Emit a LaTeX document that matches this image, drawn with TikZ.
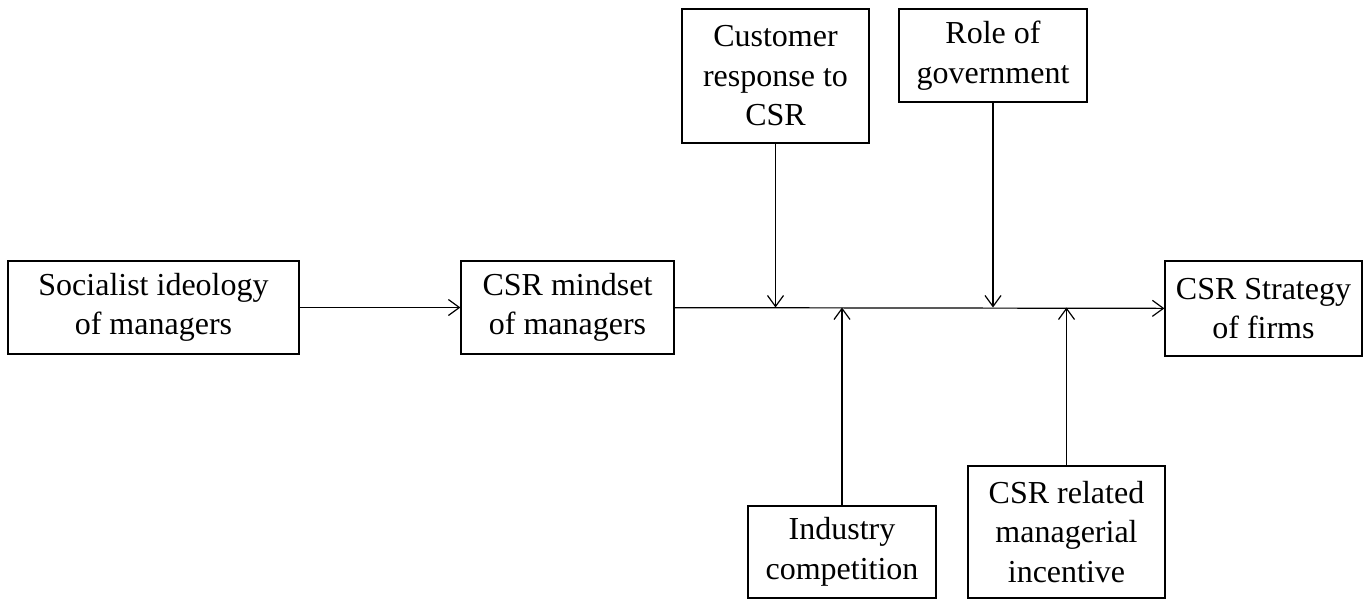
\documentclass[tikz,border=0pt]{standalone}
\usepackage{fontspec}
\setmainfont{Liberation Serif}
\usetikzlibrary{arrows.meta}

\begin{document}
\begin{tikzpicture}[
	x=1pt, y=-1pt,
	box/.style={draw, line width=1.2pt, align=center, inner sep=0pt,
		font=\fontsize{32}{39.5}\selectfont},
	link/.style={line width=1.2pt, -{Straight Barb[length=11pt,width=16pt,line width=1.2pt]}}]
\useasboundingbox (0,0) rectangle (1364,602);
% main chain
\node[box, minimum width=291pt, minimum height=93pt] (ideology) at (153.5,307.5) {Socialist ideology\\of managers};
\node[box, minimum width=213pt, minimum height=93pt] (mindset) at (567.5,307.5) {CSR mindset\\of managers};
\node[box, minimum width=197pt, minimum height=95pt] (strategy) at (1263.5,308.5) {CSR Strategy\\of firms};
% moderators
\node[box, minimum width=187pt, minimum height=134pt] (customer) at (775.5,76) {Customer\\response to\\CSR};
\node[box, minimum width=188pt, minimum height=93pt] (government) at (993,55.5) {Role of\\government};
\node[box, minimum width=188pt, minimum height=92pt] (competition) at (842,552) {Industry\\competition};
\node[box, minimum width=197pt, minimum height=132pt] (incentive) at (1066.5,532) {CSR related\\managerial\\incentive};

\draw[link] (ideology) -- (mindset);
\draw[link] (mindset) -- (strategy);
\draw[link] (customer) -- (customer.south |- mindset.east);
\draw[link] (government) -- (government.south |- mindset.east);
\draw[link] (competition) -- (competition.north |- mindset.east);
\draw[link] (incentive) -- (incentive.north |- mindset.east);
\end{tikzpicture}
\end{document}
